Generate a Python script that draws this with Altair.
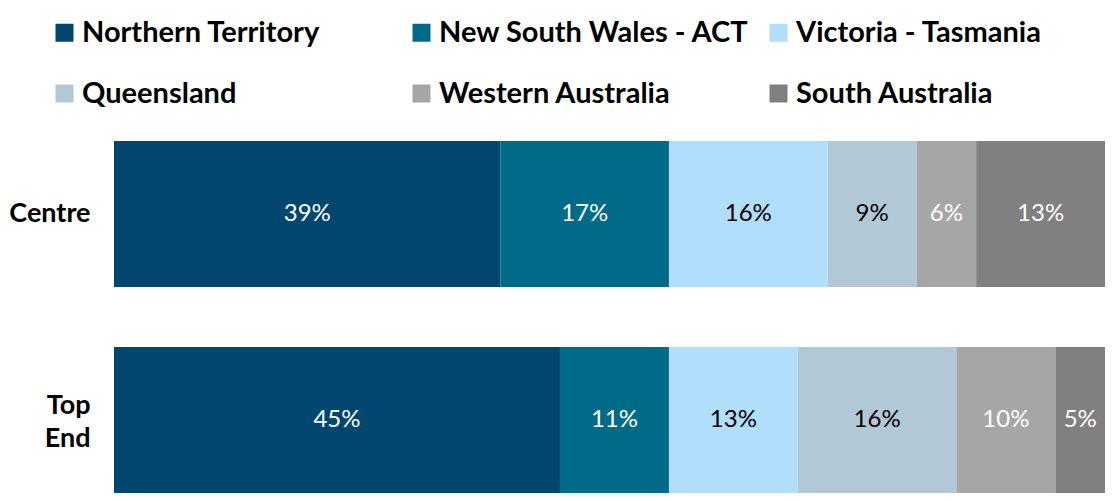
import altair as alt
import pandas as pd

categories = ["Centre", "Top End"]
regions = ["Northern Territory", "New South Wales - ACT", "Victoria - Tasmania",
           "Queensland", "Western Australia", "South Australia"]
centre_values = [39, 17, 16, 9, 6, 13]
top_end_values = [45, 11, 13, 16, 10, 5]
region_colors = ["#00466F", "#006A89", "#B0DEFB", "#B3C8D7", "#A6A6A6", "#808080"]
dark_text_regions = ["Victoria - Tasmania", "Queensland"]

rows = []
for cat, vals in zip(categories, [centre_values, top_end_values]):
    for i, (reg, v) in enumerate(zip(regions, vals)):
        rows.append({"category": cat, "region": reg, "value": v, "idx": i})
df = pd.DataFrame(rows)

FONT = "Lato"

y_enc = alt.Y(
    "category:N", sort=categories,
    scale=alt.Scale(paddingInner=0.291, paddingOuter=0),
    axis=alt.Axis(title=None, domain=False, ticks=False, labelFont=FONT,
                  labelFontWeight="bold", labelFontSize=27, labelColor="black",
                  labelPadding=24, labelExpr="split(datum.label, ' ')",
                  labelLineHeight=33,
                  labelOffset=alt.condition("datum.label == 'Top End'",
                                            alt.value(-14), alt.value(0))),
)

base = alt.Chart(df)

bars = base.mark_bar().encode(
    y=y_enc,
    x=alt.X("value:Q", stack="zero",
            scale=alt.Scale(domain=[0, 100], nice=False), axis=None),
    color=alt.Color(
        "region:N", sort=regions,
        scale=alt.Scale(domain=regions, range=region_colors),
        legend=alt.Legend(
            title=None, orient="none", legendX=-64, legendY=-123,
            columns=3, direction="horizontal", gridAlign="all",
            symbolType="square", symbolSize=324, symbolStrokeWidth=0,
            symbolOpacity=1,
            labelFont=FONT, labelFontWeight="bold", labelFontSize=29,
            labelColor="black", labelLimit=0, labelOffset=3,
            columnPadding=14, rowPadding=31, padding=0,
        ),
    ),
    order=alt.Order("idx:Q"),
)

test_expr = " || ".join(f"datum.region == '{r}'" for r in dark_text_regions)

labels = base.transform_stack(
    stack="value", groupby=["category"], sort=[alt.SortField("idx")],
    as_=["x0", "x1"],
).transform_calculate(
    mid="(datum.x0 + datum.x1) / 2",
    lbl="datum.value + '%'",
).mark_text(font=FONT, fontSize=24).encode(
    y=alt.Y("category:N", sort=categories),
    x=alt.X("mid:Q"),
    text=alt.Text("lbl:N"),
    color=alt.condition(test_expr, alt.value("black"), alt.value("white")),
)

chart = alt.layer(bars, labels).properties(
    width=991, height=352,
    padding={"left": 0, "top": 10, "right": 0, "bottom": 0},
).configure_view(stroke=None)

chart.save("out.html", embed_options={"renderer": "svg", "actions": False})
